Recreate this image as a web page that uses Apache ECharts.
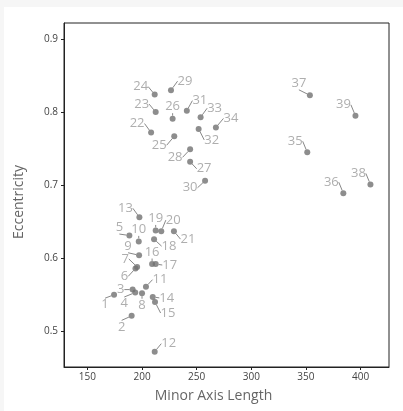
<!DOCTYPE html>
<html>
<head>
<meta charset="utf-8">
<script src="https://cdn.jsdelivr.net/npm/echarts@6/dist/echarts.min.js"></script>
<style>
html,body{margin:0;padding:0;background:#f6f6f6;width:403px;height:411px;overflow:hidden;}
#chart{position:absolute;left:4px;top:7px;width:399px;height:404px;background:#fff;}
</style>
</head>
<body>
<div id="chart"></div>
<script>
// Data
const ids = [1,2,3,4,5,6,7,8,9,10,11,12,13,14,15,16,17,18,19,20,21,22,23,24,25,26,27,28,29,30,31,32,33,34,35,36,37,38,39];
const minorAxisLength = [174.4,190.5,191.4,193.8,188.4,194.0,195.5,200.0,197.3,197.0,203.6,211.6,197.6,209.8,211.9,209.2,212.5,211.0,212.5,217.6,229.2,208.3,212.5,211.6,229.5,228.0,244.0,244.0,226.5,257.7,241.0,251.8,253.6,267.6,351.2,384.2,353.6,409.0,395.3];
const eccentricity = [0.550,0.521,0.557,0.553,0.631,0.586,0.588,0.552,0.604,0.623,0.561,0.472,0.656,0.547,0.540,0.592,0.592,0.626,0.638,0.637,0.637,0.772,0.800,0.824,0.767,0.791,0.732,0.749,0.830,0.706,0.802,0.777,0.793,0.779,0.745,0.689,0.823,0.701,0.795];
const xTicks = [150,200,250,300,350,400];
const yTicks = [0.5,0.6,0.7,0.8,0.9];

// Label placement (pixel offsets of label centre from point)
const labelOffsets = [
 [-9,10],[-10,11],[-12,0],[-11,11],[-10,-8],[-11,8],[-12,-8],[0,12],[-11,-9],[0,-12],
 [14,-7],[14,-8],[-14,-9],[14,1],[13,11],[0,-12],[14,1],[15,7],[0,-12],[12,-11],
 [14,8],[-14,-9],[-14,-8],[-14,-8],[-15,9],[0,-12],[14,7],[-15,8],[14,-9],[-15,7],
 [13,-10],[13,11],[14,-9],[15,-9],[-12,-11],[-12,-11],[-11,-12],[-12,-11],[-12,-11]
];

const points = ids.map((id, i) => [minorAxisLength[i], eccentricity[i], id]);

const chart = echarts.init(document.getElementById('chart'), null, {renderer: 'canvas'});
const FONT = 'Open Sans';
chart.setOption({
  animation: false,
  backgroundColor: '#fff',
  grid: {left: 52, top: 16, right: 14, bottom: 44, show: true, borderColor: '#222', borderWidth: 1, backgroundColor: 'transparent'},
  xAxis: {
    type: 'value', min: 128.6, max: 426,
    name: 'Minor Axis Length', nameLocation: 'middle', nameGap: 22,
    nameTextStyle: {fontFamily: FONT, fontSize: 14, color: '#666', padding: [0, 26, 0, 0]},
    axisLine: {show: true, onZero: false, lineStyle: {color: '#222', width: 1}},
    axisTick: {show: true, length: 3, lineStyle: {color: '#222'}, customValues: xTicks},
    axisLabel: {fontFamily: FONT, fontSize: 10, color: '#444', margin: 5, customValues: xTicks},
    splitLine: {show: false}
  },
  yAxis: {
    type: 'value', min: 0.451, max: 0.922,
    name: 'Eccentricity', nameLocation: 'middle', nameGap: 38,
    nameTextStyle: {fontFamily: FONT, fontSize: 14, color: '#666', padding: [0, 0, 0, -14]},
    axisLine: {show: true, onZero: false, lineStyle: {color: '#222', width: 1}},
    axisTick: {show: true, length: 3, lineStyle: {color: '#222'}, customValues: yTicks},
    axisLabel: {fontFamily: FONT, fontSize: 10, color: '#444', margin: 6, customValues: yTicks,
      formatter: v => v.toFixed(1)},
    splitLine: {show: false}
  },
  series: [{
    type: 'scatter',
    data: points,
    symbolSize: 6,
    itemStyle: {color: '#707070'},
    label: {
      show: true, position: 'inside',
      formatter: p => String(p.value[2]),
      fontFamily: FONT, fontSize: 13, color: '#9a9a9a'
    },
    labelLine: {show: true, length2: 0, lineStyle: {color: '#888', width: 1}},
    labelLayout: function (params) {
      const o = labelOffsets[params.dataIndex];
      const cx = params.rect.x + params.rect.width / 2;
      const cy = params.rect.y + params.rect.height / 2;
      return {x: cx + o[0], y: cy + o[1], align: 'center', verticalAlign: 'middle'};
    }
  }]
});
</script>
</body>
</html>
